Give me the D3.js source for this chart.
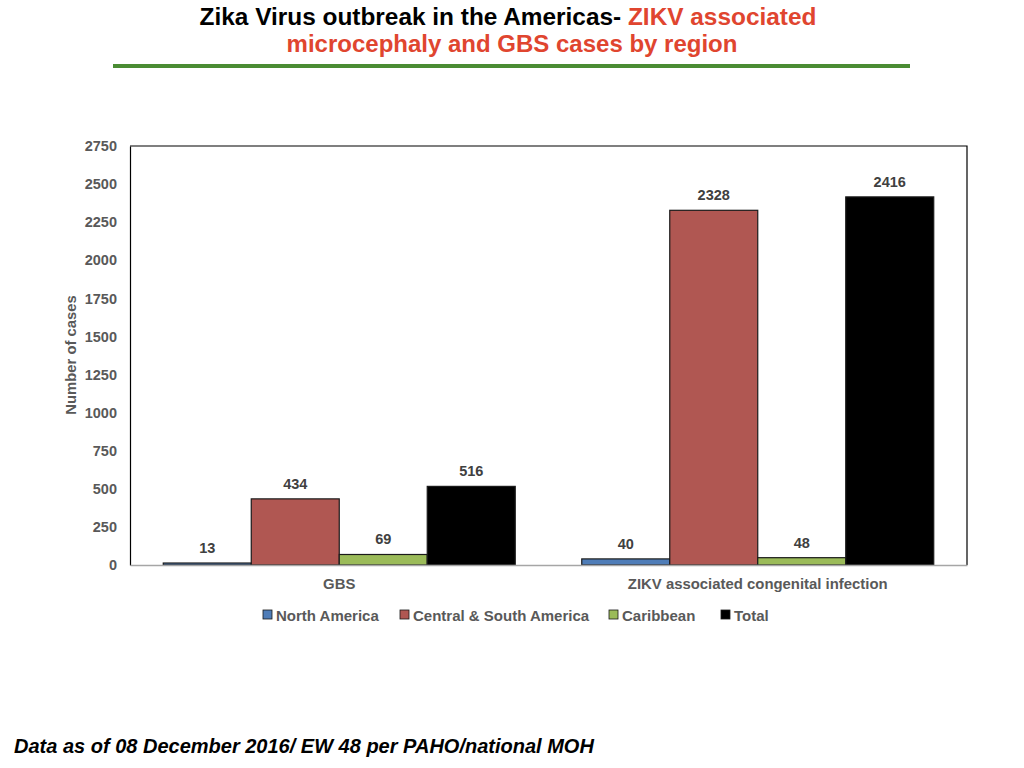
<!DOCTYPE html>
<html>
<head>
<meta charset="utf-8">
<script src="https://cdn.jsdelivr.net/npm/d3@7"></script>
<style>
  body { margin: 0; background: #fff; }
  svg { display: block; font-family: "Liberation Sans", Arial, sans-serif; }
</style>
</head>
<body>
<svg id="chart" width="1024" height="768"></svg>
<script>
// Data.
const categories = ["GBS", "ZIKV associated congenital infection"];
const seriesNames = ["North America", "Central & South America", "Caribbean", "Total"];
const northAmerica = [13, 40];
const centralSouthAmerica = [434, 2328];
const caribbean = [69, 48];
const total = [516, 2416];
const yTicks = [0, 250, 500, 750, 1000, 1250, 1500, 1750, 2000, 2250, 2500, 2750];

const seriesValues = [northAmerica, centralSouthAmerica, caribbean, total];
const colors = ["#4f7db8", "#b05752", "#9bbb59", "#000000"];

const svg = d3.select("#chart");

// Title block.
const title = svg.append("text")
  .attr("x", 508).attr("y", 25)
  .attr("text-anchor", "middle")
  .style("font-weight", "bold")
  .style("font-size", "24.4px");
title.append("tspan").attr("fill", "#000").text("Zika Virus outbreak in the Americas- ");
title.append("tspan").attr("fill", "#e0452f").text("ZIKV associated");

svg.append("text")
  .attr("x", 512).attr("y", 52)
  .attr("text-anchor", "middle")
  .attr("fill", "#e0452f")
  .style("font-weight", "bold")
  .style("font-size", "24px")
  .text("microcephaly and GBS cases by region");

svg.append("line")
  .attr("x1", 113).attr("x2", 910)
  .attr("y1", 66).attr("y2", 66)
  .attr("stroke", "#4a8c33")
  .attr("stroke-width", 4);

// Plot area.
const plot = {left: 130, top: 146, right: 967, bottom: 565};

const x0 = d3.scaleBand()
  .domain(categories)
  .range([plot.left, plot.right])
  .paddingInner(0)
  .paddingOuter(0);

const x1 = d3.scaleBand()
  .domain(seriesNames)
  .range([0, x0.bandwidth()])
  .paddingOuter(0.378)
  .paddingInner(0);

const y = d3.scaleLinear()
  .domain([0, 2750])
  .range([plot.bottom, plot.top]);

// Bars.
const groups = svg.append("g").selectAll("g")
  .data(categories)
  .join("g")
  .attr("transform", d => "translate(" + x0(d) + ",0)");

groups.selectAll("rect")
  .data((c, i) => seriesNames.map((s, j) => ({series: s, value: seriesValues[j][i], color: colors[j]})))
  .join("rect")
  .attr("x", d => x1(d.series))
  .attr("y", d => y(d.value))
  .attr("width", x1.bandwidth())
  .attr("height", d => y(0) - y(d.value))
  .attr("fill", d => d.color)
  .attr("stroke", "#1a1a1a")
  .attr("stroke-width", 1.2);

groups.selectAll("text.val")
  .data((c, i) => seriesNames.map((s, j) => ({series: s, value: seriesValues[j][i]})))
  .join("text")
  .attr("class", "val")
  .attr("x", d => x1(d.series) + x1.bandwidth() / 2)
  .attr("y", d => y(d.value) - 10)
  .attr("text-anchor", "middle")
  .attr("fill", "#404040")
  .style("font-weight", "bold")
  .style("font-size", "14.5px")
  .text(d => d.value);

// Plot frame: top and right edges.
svg.append("path")
  .attr("d", "M" + plot.left + "," + plot.top + "H" + plot.right + "V" + plot.bottom)
  .attr("fill", "none")
  .attr("stroke", "#000")
  .attr("stroke-width", 1.2);

// Y axis.
const yAxis = svg.append("g")
  .attr("transform", "translate(" + plot.left + ",0)")
  .call(d3.axisLeft(y).tickValues(yTicks).tickSize(0).tickPadding(13).tickFormat(d3.format("d")));
yAxis.select(".domain").attr("stroke", "#000").attr("stroke-width", 1.2);
yAxis.selectAll("text")
  .attr("fill", "#595959")
  .style("font-family", "'Liberation Sans', Arial, sans-serif")
  .style("font-weight", "bold")
  .style("font-size", "14.5px");

// X axis.
const xAxis = svg.append("g")
  .attr("transform", "translate(0," + plot.bottom + ")")
  .call(d3.axisBottom(x0).tickSize(0).tickPadding(13));
xAxis.select(".domain").attr("stroke", "#a6a6a6").attr("stroke-width", 1.5);
xAxis.selectAll("text")
  .attr("fill", "#595959")
  .style("font-family", "'Liberation Sans', Arial, sans-serif")
  .style("font-weight", "bold")
  .style("font-size", "14.9px");

// Y axis title.
svg.append("text")
  .attr("transform", "translate(76,355) rotate(-90)")
  .attr("text-anchor", "middle")
  .attr("fill", "#595959")
  .style("font-weight", "bold")
  .style("font-size", "14.8px")
  .text("Number of cases");

// Legend.
const legendX = [263, 400, 609, 721];
const legend = svg.append("g").selectAll("g")
  .data(seriesNames)
  .join("g")
  .attr("transform", (d, i) => "translate(" + legendX[i] + ",615)");
legend.append("rect")
  .attr("x", 0).attr("y", -5)
  .attr("width", 9).attr("height", 9)
  .attr("fill", (d, i) => colors[i])
  .attr("stroke", "#1a1a1a")
  .attr("stroke-width", 0.8);
legend.append("text")
  .attr("x", 13).attr("y", 5.5)
  .attr("fill", "#595959")
  .style("font-weight", "bold")
  .style("font-size", "15px")
  .text(d => d);

// Footnote.
svg.append("text")
  .attr("x", 14).attr("y", 753)
  .attr("fill", "#000")
  .style("font-weight", "bold")
  .style("font-style", "italic")
  .style("font-size", "20px")
  .text("Data as of 08 December 2016/ EW 48 per PAHO/national MOH");
</script>
</body>
</html>
